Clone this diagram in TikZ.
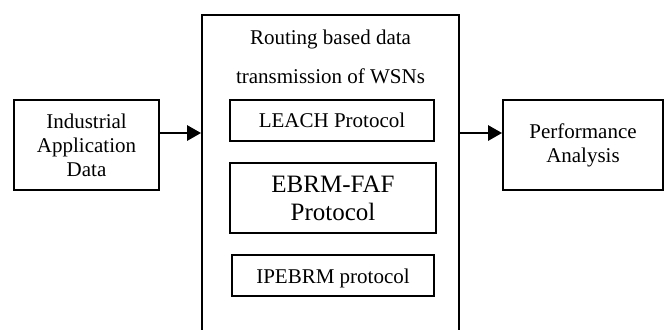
\documentclass[tikz,border=0pt]{standalone}
\usepackage{fontspec}
\setmainfont{Liberation Serif}
\usetikzlibrary{arrows.meta}

\begin{document}
\begin{tikzpicture}[x=0.5pt, y=-0.5pt,
    box/.style={draw, line width=0.9pt, inner sep=0pt, align=center, font=\fontsize{10.5}{12}\selectfont},
    arr/.style={line width=1.4pt, -{Triangle[length=7pt,width=7.5pt]}}]
    \useasboundingbox (0,0) rectangle (664,329);
    \clip (0,0) rectangle (664,329);
    \node[box, minimum width=72.5pt, minimum height=45pt] (ind) at (86.5,145) {Industrial\\Application\\Data};
    \node[box, minimum width=128.5pt, minimum height=162.5pt] (wsn) at (330.5,177.5) {};
    \node[font=\fontsize{10.5}{12}\selectfont] (title1) at (330.5,39) {Routing based data};
    \node[font=\fontsize{10.5}{12}\selectfont] (title2) at (330.5,76) {transmission of WSNs};
    \node[box, minimum width=102pt, minimum height=20.5pt] (leach) at (332,120.5) {LEACH Protocol};
    \node[box, minimum width=103pt, minimum height=35pt, font=\fontsize{12.5}{14}\selectfont] (ebrm) at (333,198) {EBRM-FAF\\Protocol};
    \node[box, minimum width=101pt, minimum height=20.5pt, text height=10.5pt] (ipebrm) at (333,275.5) {IPEBRM protocol};
    \node[box, minimum width=80pt, minimum height=45pt] (perf) at (583,145) {Performance\\Analysis};
    \draw[arr] ([yshift=6pt]ind.east) -- ([yshift=6pt]ind.east -| wsn.west);
    \draw[arr] ([yshift=6pt]perf.west -| wsn.east) -- ([yshift=6pt]perf.west);
\end{tikzpicture}
\end{document}
